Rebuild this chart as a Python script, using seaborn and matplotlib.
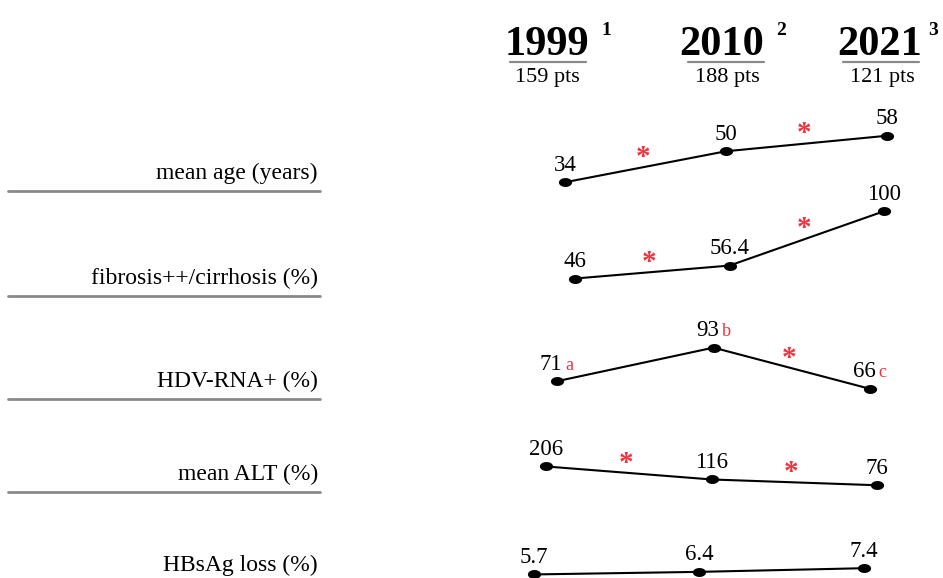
import numpy as np
import pandas as pd
import matplotlib.pyplot as plt
import seaborn as sns
from matplotlib.lines import Line2D

# Survey columns
years = [1999, 2010, 2021]
refs = ["1", "2", "3"]
cohorts = ["159 pts", "188 pts", "121 pts"]

# Row labels and values
labels = ["mean age (years)", "fibrosis++/cirrhosis (%)", "HDV-RNA+ (%)",
          "mean ALT (%)", "HBsAg loss (%)"]
mean_age = [34, 50, 58]
fibrosis = [46, 56.4, 100]
hdv_rna = [71, 93, 66]
mean_alt = [206, 116, 76]
hbsag_loss = [5.7, 6.4, 7.4]

# significant change between consecutive surveys (red asterisk)
sig_age = [True, True]
sig_fibrosis = [True, True]
sig_hdv = [False, True]
sig_alt = [True, True]
sig_hbsag = [False, False]

hdv_letters = ["a", "b", "c"]

series = [mean_age, fibrosis, hdv_rna, mean_alt, hbsag_loss]
sigs = [sig_age, sig_fibrosis, sig_hdv, sig_alt, sig_hbsag]

# layout (pixels): each row gets its own little axes
W, H = 943, 578
row_boxes = [(565, 887, 128, 190), (575, 884, 205, 286), (557, 870, 340, 398),
             (546, 877, 463, 489), (534, 864, 566, 577)]
row_ylims = [(30, 62), (40, 105), (60, 98), (50, 230), (5, 8)]
label_base = [179, 284, 387, 480, 571]
head_x = [547, 722, 880]
sup_x = [606, 781, 933]
under_x = [548, 726, 881]
pts_x = [547, 727, 882]

RED = "#f2333f"
GREY = "#8a8a8a"

sns.set_style("white")
plt.rcParams["font.family"] = ["Liberation Serif", "DejaVu Serif"]
plt.rcParams["text.color"] = "black"

fig = plt.figure(figsize=(W / 100, H / 100), dpi=100)

bg = fig.add_axes([0, 0, 1, 1])
bg.set_xlim(0, W)
bg.set_ylim(H, 0)
bg.axis("off")

# column headers
for i in range(3):
    bg.text(head_x[i], 55, str(years[i]), ha="center", va="baseline",
            fontsize=30.5, fontweight="bold")
    bg.text(sup_x[i], 35, refs[i], ha="center", va="baseline",
            fontsize=14, fontweight="bold")
    bg.add_line(Line2D([under_x[i] - 38, under_x[i] + 38], [62, 62],
                       color=GREY, lw=1.6))
    bg.text(pts_x[i], 82, cohorts[i], ha="center", va="baseline", fontsize=16)

# row labels with grey rule underneath
for i, lab in enumerate(labels):
    bg.text(318, label_base[i], lab, ha="right", va="baseline", fontsize=17)
    bg.add_line(Line2D([8, 320], [label_base[i] + 12] * 2, color=GREY, lw=2))

# ellipse-shaped dot
t = np.linspace(0, 2 * np.pi, 40)
dot = list(zip(np.cos(t), 0.68 * np.sin(t)))

for i, vals in enumerate(series):
    x0, x2, ytop, ybot = row_boxes[i]
    ax = fig.add_axes([x0 / W, 1 - ybot / H, (x2 - x0) / W, (ybot - ytop) / H])
    df = pd.DataFrame({"year": years, "value": vals})
    sns.lineplot(data=df, x="year", y="value", ax=ax, color="black", lw=1.5,
                 marker=dot, markersize=9.5, markeredgewidth=0, clip_on=False)
    ax.set_xlim(years[0], years[-1])
    ax.set_ylim(*row_ylims[i])
    ax.axis("off")

    for j, (yr, v) in enumerate(zip(years, vals)):
        if i == 2:
            ax.annotate(f"{v:g}", (yr, v), xytext=(4, 8.3), textcoords="offset points",
                        ha="right", va="baseline", fontsize=16.5, annotation_clip=False)
            ax.annotate(hdv_letters[j], (yr, v), xytext=(6, 8.3),
                        textcoords="offset points", ha="left", va="baseline",
                        fontsize=13, color=RED, annotation_clip=False)
        else:
            ax.annotate(f"{v:g}", (yr, v), xytext=(0, 8.3), textcoords="offset points",
                        ha="center", va="baseline", fontsize=16.5, annotation_clip=False)

    for j, s in enumerate(sigs[i]):
        if s:
            xm = (years[j] + years[j + 1]) / 2
            ym = (vals[j] + vals[j + 1]) / 2
            ax.annotate("*", (xm, ym), xytext=(-2, 1.5), textcoords="offset points",
                        ha="center", va="baseline", fontsize=21, fontweight="bold",
                        color=RED, annotation_clip=False)

fig.savefig("out.png", dpi=100)
